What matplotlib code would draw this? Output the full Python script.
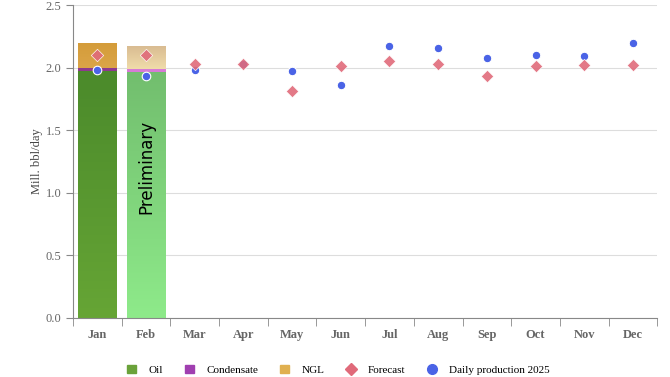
import numpy as np
import matplotlib
matplotlib.use("Agg")
import matplotlib.pyplot as plt
from matplotlib.lines import Line2D
from matplotlib.patches import Patch

months = ["Jan", "Feb", "Mar", "Apr", "May", "Jun",
          "Jul", "Aug", "Sep", "Oct", "Nov", "Dec"]

# stacked bars (only Jan and Feb reported)
oil = [1.975, 1.965]
condensate = [0.022, 0.022]
ngl = [0.199, 0.183]

forecast = [2.10, 2.10, 2.03, 2.03, 1.81, 2.01, 2.05, 2.03, 1.93, 2.01, 2.02, 2.02]
daily_2025 = [1.98, 1.93, 1.98, 2.03, 1.97, 1.86, 2.17, 2.16, 2.08, 2.10, 2.09, 2.20]

plt.rcParams['font.family'] = ['Liberation Serif', 'DejaVu Serif']

fig = plt.figure(figsize=(6.7, 3.77), dpi=100)
ax = fig.add_axes([0.109, 0.1565, 0.872, 0.830])

x = np.arange(len(months))
w = 0.8


def gradient_bar(ax, xc, bottom, height, top_color, bottom_color):
    bars = ax.bar(xc, height, w, bottom=bottom, color="none", linewidth=0, zorder=2)
    rect = bars[0]
    c1 = np.array(matplotlib.colors.to_rgb(bottom_color))
    c2 = np.array(matplotlib.colors.to_rgb(top_color))
    t = np.linspace(0, 1, 100)[:, None]
    img = (c1 * (1 - t) + c2 * t)[:, None, :]
    im = ax.imshow(img, extent=[xc - w / 2, xc + w / 2, bottom, bottom + height],
                   origin="lower", aspect="auto", zorder=2)
    im.set_clip_path(rect)


# Jan (final)
gradient_bar(ax, 0, 0, oil[0], "#4b8a2b", "#66a535")
ax.bar(0, condensate[0], w, bottom=oil[0], color="#8e3a8e", linewidth=0, zorder=2)
gradient_bar(ax, 0, oil[0] + condensate[0], ngl[0], "#d49c3a", "#dba548")

# Feb (preliminary)
gradient_bar(ax, 1, 0, oil[1], "#72be6e", "#8eea8a")
ax.bar(1, condensate[1], w, bottom=oil[1], color="#d67ad6", linewidth=0, zorder=2)
gradient_bar(ax, 1, oil[1] + condensate[1], ngl[1], "#d9bc92", "#f0dcaa")

ax.text(1, 1.21, "Preliminary", rotation=90, ha="center", va="center",
        fontsize=12, family="DejaVu Sans", color="black", zorder=4)

ax.scatter(x, daily_2025, s=38, color="#4a63e6", edgecolor="white",
           linewidth=0.8, zorder=3)
ax.scatter(x, forecast, s=40, marker="D", color="#e06a7a", alpha=0.9,
           edgecolor="white", linewidth=0.5, zorder=4)

ax.set_xlim(-0.5, 11.5)
ax.set_ylim(0, 2.5)
ax.set_yticks(np.arange(0, 2.51, 0.5))
ax.set_yticklabels([f"{v:.1f}" for v in np.arange(0, 2.51, 0.5)])
ax.set_xticks(x)
ax.set_xticklabels(months, fontweight="bold")
ax.set_xticks(np.arange(-0.5, 12, 1), minor=True)
ax.tick_params(axis="x", which="major", length=0, pad=8, labelsize=9, labelcolor="#666666")
ax.tick_params(axis="x", which="minor", length=6, color="#888888", direction="out")
ax.tick_params(axis="y", length=5, color="#888888", labelsize=9, labelcolor="#666666")

ax.grid(axis="y", color="#dddddd", linewidth=0.8, zorder=0)
ax.set_axisbelow(True)
for s in ["top", "right"]:
    ax.spines[s].set_visible(False)
for s in ["left", "bottom"]:
    ax.spines[s].set_color("#888888")

ax.set_ylabel("Mill. bbl/day", fontsize=9, color="#444444", labelpad=2)

handles = [
    Patch(color="#6aa23a", label="Oil"),
    Patch(color="#a03fb0", label="Condensate"),
    Patch(color="#e0b050", label="NGL"),
    Line2D([], [], marker="D", linestyle="none", color="#e06a7a", markersize=6.5, label="Forecast"),
    Line2D([], [], marker="o", linestyle="none", color="#4a63e6", markersize=7,
           label="Daily production 2025"),
]
fig.legend(handles=handles, loc="center", ncol=5, frameon=False,
           fontsize=8, bbox_to_anchor=(0.505, 1 - 370 / 377), handlelength=0.8,
           handleheight=0.8, columnspacing=2.0, handletextpad=1.1,
           borderaxespad=0, borderpad=0)

fig.savefig("out.png", dpi=100)
